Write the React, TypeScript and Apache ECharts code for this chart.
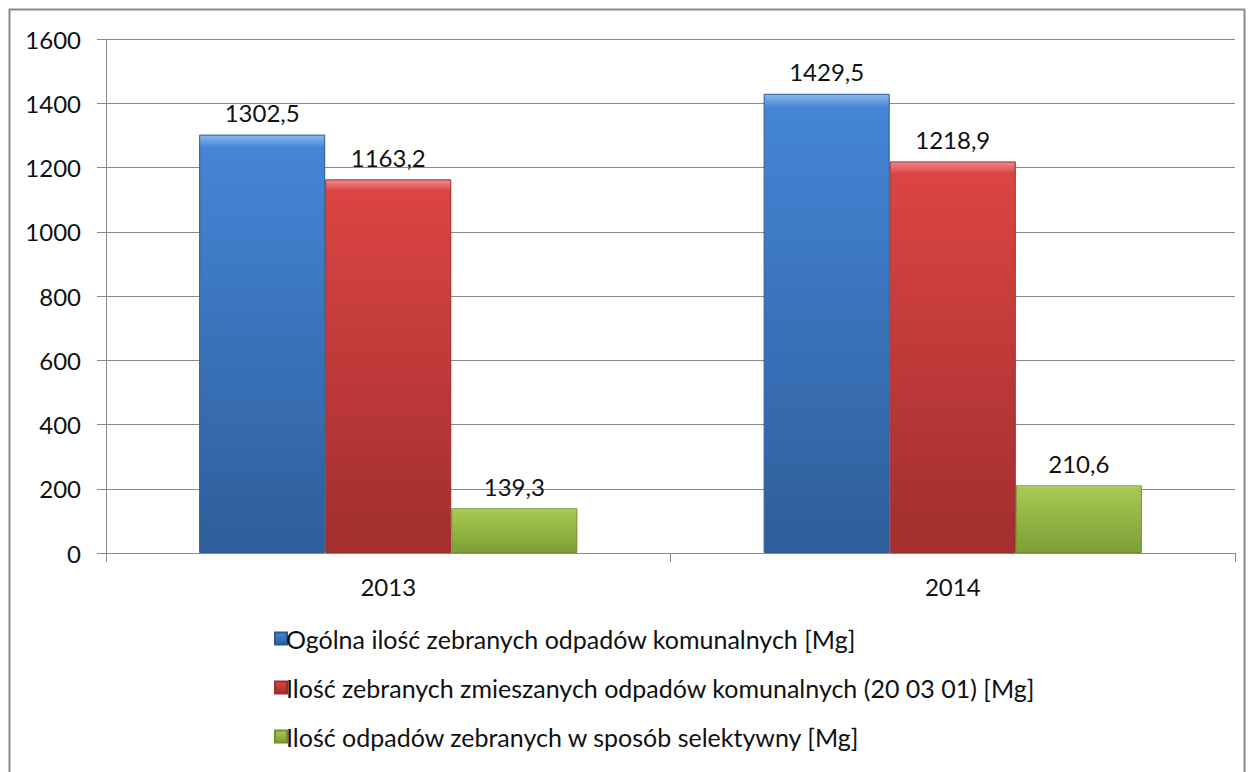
import React, { useEffect, useRef } from "react";
import * as echarts from "echarts";

const categories = ["2013", "2014"];
const seriesNames = [
  "Ogólna ilość zebranych odpadów komunalnych [Mg]",
  "Ilość zebranych zmieszanych odpadów komunalnych (20 03 01) [Mg]",
  "Ilość odpadów zebranych w sposób selektywny [Mg]",
];
const totalValues = [1302.5, 1429.5];
const mixedValues = [1163.2, 1218.9];
const selectiveValues = [139.3, 210.6];
const yTicks = { min: 0, max: 1600, interval: 200 };

const FONT = "Lato";
const FS = 24;

function grad(top: string, mid: string, bottom: string) {
  return new echarts.graphic.LinearGradient(0, 0, 0, 1, [
    { offset: 0, color: top },
    { offset: 0.03, color: mid },
    { offset: 0.97, color: bottom },
    { offset: 1, color: bottom },
  ]);
}

export default function App() {
  const ref = useRef<HTMLDivElement>(null);
  useEffect(() => {
    if (!ref.current) return;
    const chart = echarts.init(ref.current, null, { renderer: "svg" });
    const label = {
      show: true,
      position: "top" as const,
      distance: 10,
      fontFamily: FONT,
      fontSize: FS,
      color: "#111111",
      formatter: (p: any) => String(p.value).replace(".", ","),
    };
    const mk = (name: string, data: number[], colors: [string, string, string], border: string) => ({
      name,
      type: "bar" as const,
      data,
      barGap: "0%",
      barCategoryGap: "33%",
      itemStyle: { color: grad(...colors), borderColor: border, borderWidth: 1 },
      label,
    });
    chart.setOption({
      animation: false,
      backgroundColor: "#ffffff",
      grid: { left: 106, right: 19, top: 39, bottom: 219 },
      graphic: [
        {
          type: "rect",
          shape: { x: 9.5, y: 9.5, width: 1235, height: 775 },
          style: { fill: "none", stroke: "#8a8a8a", lineWidth: 2 },
          silent: true,
        },
      ],
      xAxis: {
        type: "category",
        data: categories,
        axisLine: { lineStyle: { color: "#8a8a8a", width: 1 } },
        axisTick: { show: true, length: 9, lineStyle: { color: "#8a8a8a" } },
        axisLabel: { fontFamily: FONT, fontSize: FS, color: "#111111", margin: 21 },
      },
      yAxis: {
        type: "value",
        min: yTicks.min,
        max: yTicks.max,
        interval: yTicks.interval,
        axisLine: { show: true, lineStyle: { color: "#8a8a8a", width: 1 } },
        axisTick: { show: true, length: 9, lineStyle: { color: "#8a8a8a" } },
        axisLabel: {
          fontFamily: FONT,
          fontSize: FS,
          color: "#111111",
          margin: 25,
          formatter: (v: number) => String(v),
        },
        splitLine: { lineStyle: { color: "#8a8a8a", width: 1 } },
      },
      legend: {
        orient: "vertical",
        left: 269,
        top: 621,
        itemWidth: 12,
        itemHeight: 12,
        itemGap: 24,
        icon: "rect",
        textStyle: {
          fontFamily: FONT,
          fontSize: 25,
          lineHeight: 24,
          color: "#111111",
          padding: [0, 0, 0, -6],
        },
        data: seriesNames,
      },
      series: [
        mk(seriesNames[0], totalValues, ["#8ab8ee", "#4585d6", "#2f5f9c"], "#2d5a92"),
        mk(seriesNames[1], mixedValues, ["#f08a8a", "#dc4444", "#a32f2f"], "#9a2c2c"),
        mk(seriesNames[2], selectiveValues, ["#d2ec8e", "#a6ca50", "#7da038"], "#728f33"),
      ],
    });
    return () => chart.dispose();
  }, []);
  return (
    <div
      ref={ref}
      style={{ position: "absolute", left: 0, top: 0, width: 1254, height: 772 }}
    />
  );
}
